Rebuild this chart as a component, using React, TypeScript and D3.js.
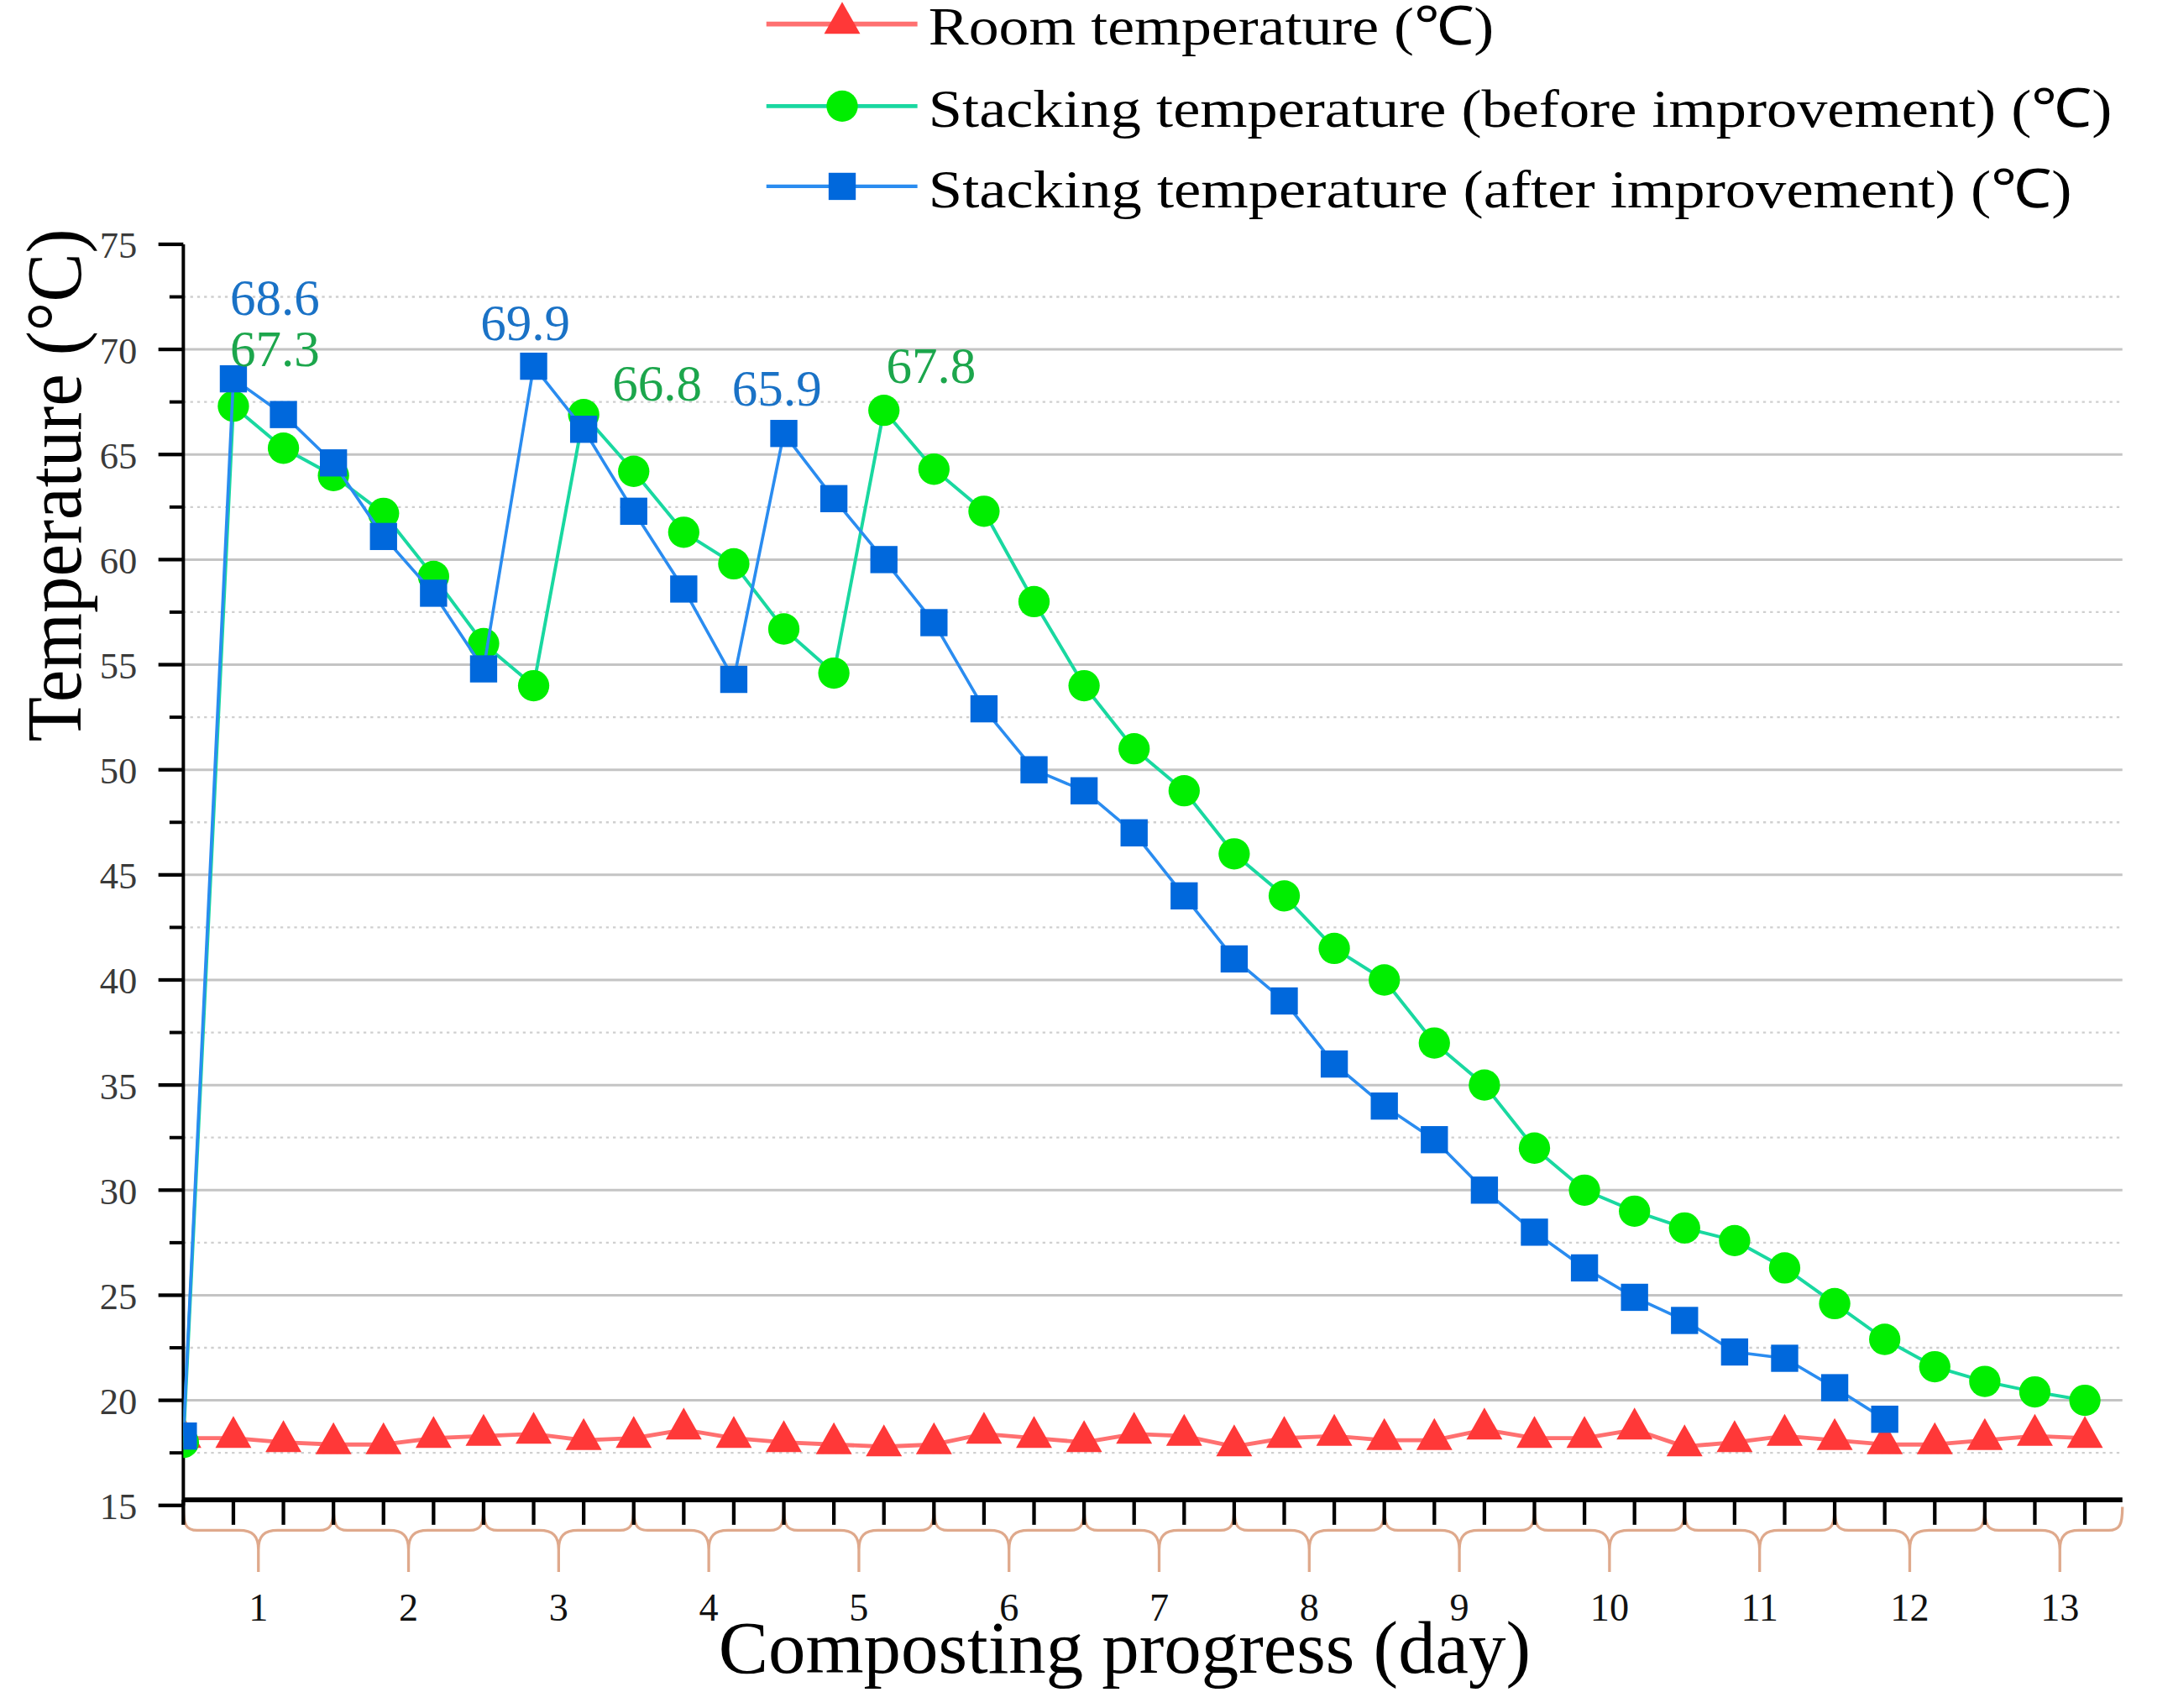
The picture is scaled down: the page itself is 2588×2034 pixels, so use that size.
import React from 'react';
import * as d3 from 'd3';

// readings, one per point (3 points per composting day)
const roomTemp = [
  18.2, 18.2, 18.0, 17.9, 17.9, 18.2, 18.3, 18.4, 18.1, 18.2, 18.6, 18.2, 18.0, 17.9, 17.8, 17.9, 18.4, 18.2, 18.0, 18.4,
  18.3, 17.8, 18.2, 18.3, 18.1, 18.1, 18.6, 18.2, 18.2, 18.6, 17.8, 18.0, 18.3, 18.1, 17.9, 17.9, 18.1, 18.3, 18.2,
];
const beforeTemp = [
  18.0, 67.3, 65.3, 64.0, 62.2, 59.2, 56.0, 54.0, 66.9, 64.2, 61.3, 59.8, 56.7, 54.6, 67.1, 64.3, 62.3, 58.0, 54.0, 51.0,
  49.0, 46.0, 44.0, 41.5, 40.0, 37.0, 35.0, 32.0, 30.0, 29.0, 28.2, 27.6, 26.3, 24.6, 22.9, 21.6, 20.9, 20.4, 20.0,
];
const afterTemp = [
  18.3, 68.6, 66.9, 64.6, 61.1, 58.4, 54.8, 69.2, 66.2, 62.3, 58.6, 54.3, 66.0, 62.9, 60.0, 57.0, 52.9, 50.0, 49.0, 47.0,
  44.0, 41.0, 39.0, 36.0, 34.0, 32.4, 30.0, 28.0, 26.3, 24.9, 23.8, 22.3, 22.0, 20.6, 19.1,
];
const dayLabels = ['1', '2', '3', '4', '5', '6', '7', '8', '9', '10', '11', '12', '13'];
const pointsPerDay = 3;
const yTicks = [15, 20, 25, 30, 35, 40, 45, 50, 55, 60, 65, 70, 75];
const yMinorTicks = [17.5, 22.5, 27.5, 32.5, 37.5, 42.5, 47.5, 52.5, 57.5, 62.5, 67.5, 72.5];

const legendLabels = [
  'Room temperature (\u2103)',
  'Stacking temperature (before improvement) (\u2103)',
  'Stacking temperature (after improvement) (\u2103)',
];

// peak annotations
const peakLabels = [
  { series: 'after', index: 1, text: '68.6' },
  { series: 'before', index: 1, text: '67.3' },
  { series: 'after', index: 7, text: '69.9' },
  { series: 'before', index: 8, text: '66.8' },
  { series: 'after', index: 12, text: '65.9' },
  { series: 'before', index: 14, text: '67.8' },
];
const peakOffsets: Record<string, [number, number]> = {
  '68.6': [30, -46],
  '67.3': [30, -29],
  '69.9': [-6, -19],
  '66.8': [53, -10],
  '65.9': [-5, -20],
  '67.8': [34, -20],
};

const VW = 1568;
const VH = 1232;
const FONT = '"Liberation Serif", "Times New Roman", serif';

const styles = {
  room: { line: '#ff7070', marker: '#ff3838', lw: 3 },
  before: { line: '#19d8a0', marker: '#00ee00', lw: 2.4 },
  after: { line: '#2a8cf0', marker: '#0068dc', lw: 2.2 },
};

const triPath = 'M0,-16L13,7L-13,7Z';

const Marker = ({ kind, cx, cy, fill }: { kind: string; cx: number; cy: number; fill: string }) => {
  if (kind === 'room') return <path d={triPath} transform={`translate(${cx},${cy})`} fill={fill} />;
  if (kind === 'before') return <circle cx={cx} cy={cy} r={11.3} fill={fill} />;
  return <rect x={cx - 9.8} y={cy - 9.8} width={19.6} height={19.6} fill={fill} />;
};

export default function App() {
  const xMax = dayLabels.length * pointsPerDay - 0.25;
  const x = d3.scaleLinear().domain([0, xMax]).range([132.3, 1531.5]);
  const y = d3.scaleLinear().domain([15, 75]).range([1086, 176.1]);
  const axisY = 1082;

  const line = d3
    .line<number>()
    .x((_, i) => x(i))
    .y(d => y(d));

  const series = [
    { key: 'room', values: roomTemp },
    { key: 'before', values: beforeTemp },
    { key: 'after', values: afterTemp },
  ];
  const byKey: Record<string, number[]> = { room: roomTemp, before: beforeTemp, after: afterTemp };

  const xTickIdx = d3.range(0, Math.floor(xMax) + 1);

  // curly brace under each day
  const bracePath = (a: number, b: number, c: number) => {
    const y0 = 1087;
    const yh = 1104;
    const tip = 1134;
    return (
      `M${a},${y0} C${a},${yh - 4} ${a + 2},${yh} ${a + 10},${yh} L${c - 14},${yh} ` +
      `C${c - 4},${yh} ${c},${yh + 4} ${c},${yh + 14} L${c},${tip} ` +
      `M${c},${yh + 14} C${c},${yh + 4} ${c + 4},${yh} ${c + 14},${yh} L${b - 10},${yh} ` +
      `C${b - 2},${yh} ${b},${yh - 4} ${b},${y0}`
    );
  };

  const legendRows = [17.2, 76.4, 134.3];
  const legendEnds = [1078, 1524, 1495];

  return (
    <svg
      width={2588}
      height={2034}
      viewBox={`0 0 ${VW} ${VH}`}
      style={{ position: 'absolute', left: 0, top: 0, background: '#fff' }}
      fontFamily={FONT}
    >
      <defs>
        <clipPath id="plot-clip">
          <rect x={x(0)} y={0} width={x(xMax) - x(0) + 14} height={axisY} />
        </clipPath>
      </defs>
      <rect width={VW} height={VH} fill="#fff" />

      {/* grid */}
      {yTicks
        .filter(t => t > 15 && t < 75)
        .map(t => (
          <line key={`g${t}`} x1={x(0)} x2={x(xMax)} y1={y(t)} y2={y(t)} stroke="#c4c4c4" strokeWidth={1.8} />
        ))}
      {yMinorTicks.map(t => (
        <line
          key={`m${t}`}
          x1={x(0)}
          x2={x(xMax)}
          y1={y(t)}
          y2={y(t)}
          stroke="#cfcfcf"
          strokeWidth={1.4}
          strokeDasharray="2 3"
        />
      ))}

      {/* y axis */}
      <line x1={x(0)} x2={x(0)} y1={y(75)} y2={y(15)} stroke="#000" strokeWidth={2.4} />
      {yTicks.map(t => (
        <g key={`yt${t}`}>
          <line x1={x(0) - 18} x2={x(0)} y1={y(t)} y2={y(t)} stroke="#000" strokeWidth={2.6} />
          <text x={99} y={y(t) + 10} textAnchor="end" fontSize={27} fill="#3a3a3a">
            {t}
          </text>
        </g>
      ))}
      {yMinorTicks.map(t => (
        <line key={`ymt${t}`} x1={x(0) - 10} x2={x(0)} y1={y(t)} y2={y(t)} stroke="#000" strokeWidth={2.4} />
      ))}

      {/* braces */}
      {dayLabels.map((d, k) => {
        const a = x(k * pointsPerDay);
        const b = x(Math.min((k + 1) * pointsPerDay, xMax));
        const c = x(k * pointsPerDay + pointsPerDay / 2);
        return (
          <g key={`br${d}`}>
            <path d={bracePath(a, b, c)} fill="none" stroke="#dfa98c" strokeWidth={2} />
            <text x={c} y={1169} textAnchor="middle" fontSize={28} fill="#111">
              {d}
            </text>
          </g>
        );
      })}

      {/* x axis */}
      {xTickIdx.map(i => (
        <line key={`xt${i}`} x1={x(i)} x2={x(i)} y1={axisY} y2={1100} stroke="#000" strokeWidth={2.6} />
      ))}
      <line x1={x(0)} x2={x(xMax)} y1={axisY} y2={axisY} stroke="#000" strokeWidth={3.4} />

      {/* series */}
      <g clipPath="url(#plot-clip)">
        {series.map(s => {
          const st = styles[s.key as keyof typeof styles];
          return (
            <g key={s.key}>
              <path d={line(s.values) || ''} fill="none" stroke={st.line} strokeWidth={st.lw} strokeLinejoin="round" />
              {s.values.map((v, i) => (
                <Marker key={i} kind={s.key} cx={x(i)} cy={y(v)} fill={st.marker} />
              ))}
            </g>
          );
        })}
      </g>

      {/* peak labels */}
      {peakLabels.map(p => {
        const v = byKey[p.series][p.index];
        const [dx, dy] = peakOffsets[p.text];
        return (
          <text
            key={p.text}
            x={x(p.index) + dx}
            y={y(v) + dy}
            textAnchor="middle"
            fontSize={37}
            fill={p.series === 'after' ? '#1a72c6' : '#1ca64c'}
          >
            {p.text}
          </text>
        );
      })}

      {/* legend */}
      {series.map((s, k) => {
        const st = styles[s.key as keyof typeof styles];
        const ly = legendRows[k];
        return (
          <g key={`lg${s.key}`}>
            <line x1={553} x2={662} y1={ly} y2={ly} stroke={st.line} strokeWidth={st.lw + 0.4} />
            <Marker kind={s.key} cx={607.7} cy={ly} fill={st.marker} />
            <text
              x={670}
              y={ly + 15}
              fontSize={39}
              fill="#000"
              textLength={legendEnds[k] - 670}
              lengthAdjust="spacingAndGlyphs"
            >
              {legendLabels[k]}
            </text>
          </g>
        );
      })}

      {/* axis titles */}
      <text
        transform="translate(58,350) rotate(-90)"
        textAnchor="middle"
        fontSize={57}
        fill="#000"
        textLength={370}
        lengthAdjust="spacingAndGlyphs"
      >
        Temperature (°C)
      </text>
      <text
        x={811.5}
        y={1207}
        textAnchor="middle"
        fontSize={54}
        fill="#000"
        textLength={586}
        lengthAdjust="spacingAndGlyphs"
      >
        Composting progress (day)
      </text>
    </svg>
  );
}
